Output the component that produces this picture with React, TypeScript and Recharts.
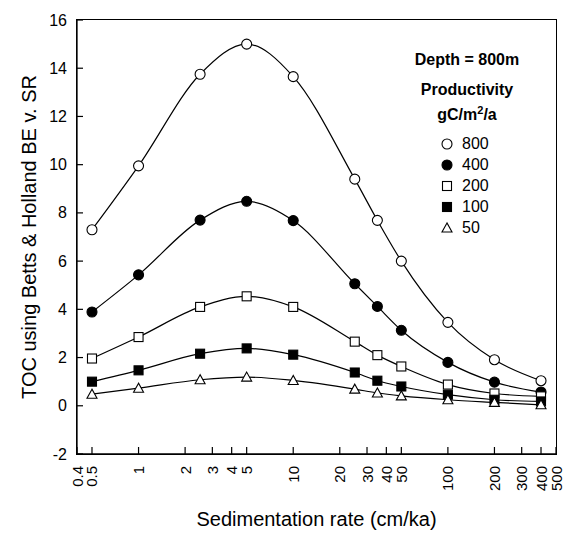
import React from 'react';
import { LineChart, Line, XAxis, YAxis, Legend } from 'recharts';

// sedimentation rates (cm/ka) where TOC was computed
const sedRates = [0.5, 1, 2.5, 5, 10, 25, 35, 50, 100, 200, 400];

// TOC per productivity (gC/m2/a)
const toc800 = [7.3, 9.95, 13.75, 15.0, 13.65, 9.4, 7.69, 6.0, 3.46, 1.91, 1.04];
const toc400 = [3.89, 5.43, 7.7, 8.48, 7.68, 5.06, 4.12, 3.13, 1.8, 0.98, 0.57];
const toc200 = [1.96, 2.85, 4.1, 4.54, 4.1, 2.66, 2.1, 1.63, 0.88, 0.51, 0.39];
const toc100 = [1.0, 1.47, 2.16, 2.38, 2.12, 1.38, 1.04, 0.8, 0.46, 0.25, 0.18];
const toc50 = [0.48, 0.73, 1.08, 1.19, 1.05, 0.69, 0.53, 0.41, 0.25, 0.14, 0.04];

const xTicks = [0.4, 0.5, 1, 2, 3, 4, 5, 10, 20, 30, 40, 50, 100, 200, 300, 400, 500];
const yTicks = [-2, 0, 2, 4, 6, 8, 10, 12, 14, 16];
const xDomain = [0.4, 500];
const yDomain = [-2, 16];

const series = [
  { key: 'p800', name: '800', values: toc800, shape: 'circle', filled: false },
  { key: 'p400', name: '400', values: toc400, shape: 'circle', filled: true },
  { key: 'p200', name: '200', values: toc200, shape: 'square', filled: false },
  { key: 'p100', name: '100', values: toc100, shape: 'square', filled: true },
  { key: 'p50', name: '50', values: toc50, shape: 'triangle', filled: false },
];

const data = sedRates.map((sr, i) => {
  const row: Record<string, number> = { sr };
  series.forEach((s) => (row[s.key] = s.values[i]));
  return row;
});

const FONT = '"Liberation Sans", Arial, Helvetica, sans-serif';

// chart layout
const W = 563;
const H = 533;
const M = { top: 20, right: 7, left: 0, bottom: 0 };
const Y_AXIS_W = 77;
const X_AXIS_H = 79;

function Marker({ cx, cy, shape, filled }: any) {
  if (cx == null || cy == null) return null;
  const fill = filled ? '#000' : '#fff';
  if (shape === 'circle') {
    return <circle cx={cx} cy={cy} r={5} fill={fill} stroke="#000" strokeWidth={1.1} />;
  }
  if (shape === 'square') {
    return <rect x={cx - 4.5} y={cy - 4.5} width={9} height={9} fill={fill} stroke="#000" strokeWidth={1.1} />;
  }
  return (
    <polygon
      points={`${cx},${cy - 5} ${cx - 5},${cy + 4} ${cx + 5},${cy + 4}`}
      fill={fill}
      stroke="#000"
      strokeWidth={1.1}
    />
  );
}

function XTick({ x, y, payload }: any) {
  return (
    <text
      transform={`translate(${x},${y}) rotate(-90)`}
      textAnchor="end"
      dominantBaseline="central"
      fontSize={15}
      fontFamily={FONT}
      fill="#000"
    >
      {payload.value}
    </text>
  );
}

function YTick({ x, y, payload }: any) {
  return (
    <text x={x} y={y} textAnchor="end" dominantBaseline="central" fontSize={16} fontFamily={FONT} fill="#000">
      {payload.value}
    </text>
  );
}

function LegendBox() {
  return (
    <div style={{ fontFamily: FONT, color: '#000', width: 150, textAlign: 'center' }}>
      <div style={{ fontWeight: 'bold', fontSize: 16, lineHeight: '20px' }}>Depth = 800m</div>
      <div style={{ fontWeight: 'bold', fontSize: 16, lineHeight: '20px', marginTop: 10 }}>Productivity</div>
      <div style={{ fontWeight: 'bold', fontSize: 16, lineHeight: '20px' }}>
        gC/m<sup style={{ fontSize: 11 }}>2</sup>/a
      </div>
      <div style={{ marginTop: 8, paddingLeft: 48, textAlign: 'left' }}>
        {series.map((s) => (
          <div key={s.key} style={{ display: 'flex', alignItems: 'center', height: 21, fontSize: 16 }}>
            <svg width={14} height={14} style={{ marginRight: 8 }}>
              <Marker cx={7} cy={7} shape={s.shape} filled={s.filled} />
            </svg>
            {s.name}
          </div>
        ))}
      </div>
    </div>
  );
}

export default function App() {
  const plotLeft = M.left + Y_AXIS_W;
  const plotTop = M.top;
  const plotW = W - M.right - plotLeft;
  const plotH = H - M.bottom - X_AXIS_H - plotTop;
  return (
    <div style={{ position: 'absolute', left: 0, top: 0, width: W, height: H, background: '#fff' }}>
      <LineChart width={W} height={H} data={data} margin={M}>
        <XAxis
          dataKey="sr"
          type="number"
          scale="log"
          domain={xDomain}
          ticks={xTicks}
          allowDataOverflow
          interval={0}
          height={X_AXIS_H}
          tickSize={-7}
          tickMargin={19}
          tick={<XTick />}
          axisLine={{ stroke: '#000', strokeWidth: 1.3 }}
          tickLine={{ stroke: '#000', strokeWidth: 1.2 }}
          label={{
            value: 'Sedimentation rate (cm/ka)',
            position: 'insideBottom',
            offset: 7,
            style: { fontSize: 20, fontFamily: FONT, fill: '#000' },
          }}
        />
        <YAxis
          type="number"
          domain={yDomain}
          ticks={yTicks}
          interval={0}
          width={Y_AXIS_W}
          tickSize={-6}
          tickMargin={16}
          tick={<YTick />}
          axisLine={{ stroke: '#000', strokeWidth: 1.3 }}
          tickLine={{ stroke: '#000', strokeWidth: 1.2 }}
          label={{
            value: 'TOC using Betts & Holland BE v. SR',
            angle: -90,
            position: 'center',
            dx: -10,
            style: { fontSize: 20, fontFamily: FONT, fill: '#000', textAnchor: 'middle' },
          }}
        />
        <Legend
          layout="horizontal"
          verticalAlign="middle"
          align="center"
          content={<LegendBox />}
          wrapperStyle={{ top: 50, left: 392, width: 150, right: 'auto', bottom: 'auto' }}
        />
        {series.map((s) => (
          <Line
            key={s.key}
            dataKey={s.key}
            name={s.name}
            type="monotone"
            stroke="#000"
            strokeWidth={1.2}
            isAnimationActive={false}
            dot={(p: any) => <Marker key={`${s.key}-${p.index}`} cx={p.cx} cy={p.cy} shape={s.shape} filled={s.filled} />}
            activeDot={false}
          />
        ))}
      </LineChart>
      {/* plot frame (top and right edges) */}
      <div
        style={{
          position: 'absolute',
          left: plotLeft - 1,
          top: plotTop - 1,
          width: plotW + 2,
          height: plotH + 2,
          border: '1px solid #000',
          boxSizing: 'border-box',
          pointerEvents: 'none',
        }}
      />
    </div>
  );
}
